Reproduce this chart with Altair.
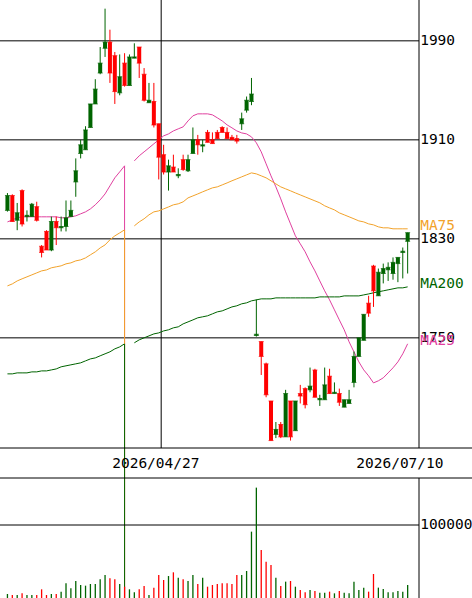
import altair as alt
import pandas as pd

# ---------------- data ----------------
idx = list(range(83))
opens = [1853, 1865, 1845, 1869, 1848, 1848, 1856, 1824, 1836, 1821,
         1844, 1839, 1840, 1848, 1876, 1899, 1902, 1920, 1939, 1964,
         1984, 1989, 1978, 1948, 1972, 1954, 1976, 1985, 1963, 1940,
         1941, 1923, 1898, 1884, 1888, 1881, 1894, 1885, 1899, 1910,
         1905, 1916, 1910, 1916, 1920, 1916, 1912, 1911, 1923, 1934,
         1941, 1752, 1747, 1729, 1699, 1672, 1680, 1670, 1699, 1675,
         1705, 1709, 1708, 1724, 1700, 1700, 1719, 1705, 1705, 1694,
         1697, 1714, 1735, 1748, 1778, 1808, 1784, 1802, 1805, 1802,
         1810, 1819, 1828]
highs = [1867, 1866, 1859, 1870, 1853, 1859, 1860, 1825, 1837, 1848,
         1848, 1848, 1861, 1861, 1895, 1910, 1921, 1939, 1959, 1985,
         2016, 1999, 1981, 1979, 1980, 1979, 1988, 1985, 1968, 1956,
         1956, 1923, 1906, 1894, 1898, 1887, 1898, 1898, 1920, 1914,
         1910, 1918, 1916, 1918, 1921, 1920, 1914, 1914, 1932, 1945,
         1960, 1781, 1747, 1730, 1699, 1682, 1682, 1708, 1699, 1699,
         1712, 1710, 1726, 1725, 1704, 1726, 1725, 1714, 1709, 1700,
         1708, 1739, 1750, 1769, 1784, 1809, 1806, 1810, 1811, 1815,
         1815, 1823, 1835]
lows = [1852, 1844, 1837, 1840, 1844, 1848, 1844, 1815, 1821, 1820,
        1825, 1836, 1836, 1848, 1864, 1895, 1902, 1920, 1939, 1963,
        1977, 1956, 1939, 1946, 1953, 1954, 1976, 1960, 1941, 1940,
        1920, 1878, 1882, 1869, 1884, 1879, 1885, 1884, 1899, 1898,
        1900, 1908, 1907, 1911, 1916, 1911, 1910, 1907, 1918, 1932,
        1938, 1751, 1720, 1702, 1667, 1669, 1669, 1670, 1667, 1675,
        1697, 1693, 1706, 1702, 1695, 1700, 1705, 1705, 1695, 1694,
        1697, 1710, 1735, 1748, 1767, 1775, 1784, 1794, 1796, 1797,
        1795, 1798, 1802]
closes = [1865, 1844, 1851, 1842, 1849, 1858, 1845, 1819, 1821, 1844,
          1839, 1840, 1847, 1853, 1885, 1906, 1918, 1939, 1951, 1972,
          1989, 1964, 1949, 1961, 1954, 1977, 1977, 1972, 1942, 1942,
          1922, 1896, 1884, 1889, 1884, 1882, 1886, 1894, 1910, 1906,
          1906, 1908, 1907, 1911, 1916, 1911, 1910, 1909, 1927, 1942,
          1947, 1753, 1735, 1704, 1667, 1676, 1670, 1705, 1670, 1699,
          1703, 1696, 1711, 1702, 1701, 1712, 1705, 1706, 1698, 1700,
          1700, 1735, 1750, 1769, 1770, 1788, 1803, 1806, 1807, 1811,
          1815, 1820, 1835]
volumes = [55000, 41000, 41000, 64000, 41000, 41000, 41000, 119000, 41000, 55000,
           55000, 87000, 201000, 132000, 233000, 178000, 169000, 192000, 192000, 256000,
           315000, 269000, 256000, 192000, 155000, 119000, 78000, 119000, 164000, 41000,
           142000, 315000, 247000, 301000, 352000, 279000, 256000, 233000, 315000, 192000,
           279000, 155000, 178000, 192000, 201000, 201000, 192000, 315000, 315000, 370000,
           909000, 1512000, 658000, 498000, 452000, 279000, 164000, 224000, 233000, 155000,
           110000, 78000, 110000, 96000, 73000, 73000, 87000, 64000, 96000, 73000,
           64000, 224000, 110000, 142000, 87000, 329000, 142000, 123000, 78000, 78000,
           96000, 87000, 178000]

ma25 = [1843.7, 1845.3, 1847.0, 1847.8, 1847.8, 1847.8, 1847.8, 1847.8, 1847.8, 1847.8,
        1847.8, 1847.0, 1847.0, 1847.8, 1848.6, 1850.2, 1851.8, 1854.2, 1857.5, 1861.5,
        1866.3, 1872.8, 1879.3, 1884.1, 1889.0, None, 1893.0, 1897.1, 1900.3, 1903.5,
        1906.8, 1910.0, 1913.2, 1914.8, 1917.2, 1918.9, 1920.5, 1925.3, 1929.4, 1931.0,
        1931.0, 1931.0, 1930.2, 1927.8, 1925.3, 1922.1, 1919.7, 1917.2, 1915.6, 1914.8,
        1912.4, 1907.6, 1900.3, 1890.6, 1880.9, 1872.0, 1862.3, 1851.8, 1842.1, 1832.4,
        1826.0, 1819.5, 1811.4, 1804.1, 1796.0, 1788.0, 1780.7, 1772.6, 1764.5, 1756.5,
        1746.8, 1738.7, 1730.6, 1724.1, 1719.3, 1713.6, 1715.3, 1717.7, 1721.7, 1725.8,
        1730.6, 1737.1, 1745.2]
ma75 = [1792.0, 1793.6, 1796.0, 1797.7, 1799.3, 1800.9, 1802.5, 1804.1, 1804.9, 1806.6,
        1807.4, 1808.2, 1809.8, 1810.6, 1812.2, 1813.0, 1814.6, 1817.1, 1819.5, 1822.7,
        1825.1, 1829.2, 1832.4, 1834.8, 1837.3, None, 1840.5, 1843.7, 1846.2, 1849.4,
        1851.8, 1852.6, 1854.2, 1855.8, 1857.5, 1858.3, 1859.9, 1863.1, 1864.7, 1866.3,
        1868.0, 1869.6, 1871.2, 1872.0, 1873.6, 1875.2, 1876.9, 1878.5, 1880.1, 1881.7,
        1883.3, 1882.5, 1880.9, 1879.3, 1876.9, 1874.4, 1872.0, 1870.4, 1868.8, 1867.1,
        1865.5, 1863.9, 1862.3, 1860.7, 1859.1, 1856.7, 1855.0, 1853.4, 1851.0, 1849.4,
        1847.8, 1846.2, 1844.5, 1843.7, 1842.1, 1841.3, 1839.7, 1838.9, 1838.9, 1838.1,
        1838.1, 1838.1, 1838.1]
ma200 = [1720.9, 1720.9, 1721.7, 1721.7, 1721.7, 1722.5, 1722.5, 1723.3, 1723.3, 1724.1,
         1724.9, 1726.6, 1727.4, 1728.2, 1729.0, 1729.8, 1731.4, 1733.0, 1733.8, 1735.5,
         1737.1, 1738.7, 1741.1, 1742.7, 1745.2, None, 1746.0, 1748.4, 1750.0, 1751.6,
         1753.2, 1754.0, 1755.6, 1756.5, 1758.1, 1758.9, 1761.3, 1762.9, 1764.5, 1766.2,
         1767.0, 1767.8, 1769.4, 1771.0, 1771.8, 1773.4, 1775.0, 1775.9, 1777.5, 1778.3,
         1779.9, 1780.7, 1781.5, 1781.5, 1781.5, 1782.3, 1782.3, 1782.3, 1782.3, 1782.3,
         1782.3, 1782.3, 1782.3, 1782.3, 1783.1, 1783.1, 1783.1, 1783.1, 1783.1, 1783.9,
         1783.9, 1783.9, 1783.9, 1784.7, 1785.5, 1786.4, 1787.2, 1788.0, 1788.8, 1789.6,
         1790.4, 1790.4, 1791.2]

glitch_index = 24          # day on which the moving averages drop out
glitch_floor = 1535        # value they drop to (off the bottom of the chart)
month_line_index = 31.5    # vertical guide line
date_ticks = [30, 80]
date_labels = ["2026/04/27", "2026/07/10"]
price_ticks = [1750, 1830, 1910, 1990]
volume_tick = 1000000
ma_names = ["MA25", "MA75", "MA200"]

# ---------------- styling ----------------
GREEN = "#006400"
RED = "#ff0000"
PINK = "#e0409f"
ORANGE = "#f2a22a"
MA200C = "#006400"
FONT = "DejaVu Sans Mono"
FS = 14.5

candles = pd.DataFrame({"i": idx, "open": opens, "high": highs, "low": lows,
                        "close": closes, "volume": volumes})
candles["kind"] = ["up" if c >= o else "down" for o, c in zip(opens, closes)]

rows = []
for name, series in zip(ma_names, [ma25, ma75, ma200]):
    for i, v in zip(idx, series):
        if v is not None:
            rows.append({"i": i, "v": v, "kind": name, "seg": 0 if i <= glitch_index else 1})
ma_df = pd.DataFrame(rows)

glitch_df = pd.DataFrame({
    "i": [glitch_index] * 3,
    "v": [ma25[glitch_index], ma75[glitch_index], ma200[glitch_index]],
    "floor": [glitch_floor] * 3,
    "kind": ma_names,
})

label_df = pd.DataFrame({"i": [idx[-1]] * 3,
                         "v": [ma25[-1], ma75[-1], ma200[-1]],
                         "kind": ma_names})

# one shared colour scale for every coloured mark
color = alt.Color("kind:N",
                  scale=alt.Scale(domain=["up", "down"] + ma_names,
                                  range=[GREEN, RED, PINK, ORANGE, MA200C]),
                  legend=None)

X = alt.Scale(domain=[-0.5, 83.3], nice=False, zero=False)
YP = alt.Scale(domain=[1661, 2023], range=[448, 0], nice=False, zero=False)
YV = alt.Scale(domain=[0, 1644000], range=[598, 478], nice=False, zero=False)

x_enc = alt.X("i:Q", scale=X, axis=None)

one = pd.DataFrame({"a": [0]})
ticks_df = pd.DataFrame({"v": price_ticks, "t": [str(p) for p in price_ticks],
                         "i": [idx[-1]] * len(price_ticks)})

# price panel layers
grid_lines = alt.Chart(ticks_df).mark_rule(color="black", strokeWidth=1).encode(
    y=alt.Y("v:Q", scale=YP, axis=None), x=alt.value(0), x2=alt.value(419))

grid_labels = alt.Chart(ticks_df).mark_text(
    align="left", baseline="middle", dx=12.5, font=FONT, fontSize=FS, color="black").encode(
    x=x_enc, y=alt.Y("v:Q", scale=YP, axis=None), text="t:N")

month_line = alt.Chart(pd.DataFrame({"i": [month_line_index]})).mark_rule(
    color="black", strokeWidth=1).encode(x=x_enc, y=alt.value(0), y2=alt.value(448))

ma_lines = alt.Chart(ma_df).mark_line(strokeWidth=1).encode(
    x=x_enc, y=alt.Y("v:Q", scale=YP, axis=None), color=color, detail="seg:N")

glitch = alt.Chart(glitch_df).mark_rule(strokeWidth=1).encode(
    x=x_enc, y=alt.Y("v:Q", scale=YP, axis=None), y2="floor:Q", color=color)

wicks = alt.Chart(candles).mark_rule(strokeWidth=1).encode(
    x=x_enc, y=alt.Y("low:Q", scale=YP, axis=None), y2="high:Q", color=color)

bodies = alt.Chart(candles).mark_bar(size=4).encode(
    x=x_enc, y=alt.Y("open:Q", scale=YP, axis=None), y2="close:Q", color=color)

ticks_o = alt.Chart(candles).mark_tick(orient="horizontal", size=5, thickness=1).encode(
    x=x_enc, y=alt.Y("open:Q", scale=YP, axis=None), color=color)
ticks_c = alt.Chart(candles).mark_tick(orient="horizontal", size=5, thickness=1).encode(
    x=x_enc, y=alt.Y("close:Q", scale=YP, axis=None), color=color)

ma_labels = alt.Chart(label_df).mark_text(align="left", baseline="middle", dx=12.5, dy=-3,
                                          font=FONT, fontSize=FS).encode(
    x=x_enc, y=alt.Y("v:Q", scale=YP, axis=None), text="kind:N", color=color)

price = alt.layer(grid_lines, grid_labels, month_line, ma_lines, glitch, wicks, bodies,
                  ticks_o, ticks_c, ma_labels)

# volume panel layers
vol_grid = alt.Chart(pd.DataFrame({"v": [volume_tick]})).mark_rule(
    color="black", strokeWidth=1).encode(
    y=alt.Y("v:Q", scale=YV, axis=None), x=alt.value(0), x2=alt.value(419))

vol_label = alt.Chart(pd.DataFrame({"v": [volume_tick], "i": [idx[-1]],
                                    "t": [str(volume_tick)]})).mark_text(
    align="left", baseline="middle", dx=12.5, font=FONT, fontSize=FS, color="black").encode(
    x=x_enc, y=alt.Y("v:Q", scale=YV, axis=None), text="t:N")

vol_bars = alt.Chart(candles).mark_rule(strokeWidth=1.3).encode(
    x=x_enc, y=alt.Y("volume:Q", scale=YV, axis=None), y2=alt.datum(0), color=color)

volume = alt.layer(vol_grid, vol_bars, vol_label)

# frame and date labels
frame_h1 = alt.Chart(one).mark_rule(color="black").encode(
    x=alt.value(0), x2=alt.value(472), y=alt.value(448))
frame_h2 = alt.Chart(one).mark_rule(color="black").encode(
    x=alt.value(0), x2=alt.value(472), y=alt.value(478))
frame_v1 = alt.Chart(one).mark_rule(color="black").encode(
    x=alt.value(419), y=alt.value(0), y2=alt.value(448))
frame_v2 = alt.Chart(one).mark_rule(color="black").encode(
    x=alt.value(419), y=alt.value(478), y2=alt.value(598))

dates = alt.Chart(pd.DataFrame({"i": date_ticks, "t": date_labels})).mark_text(
    align="center", baseline="middle", dx=2, font=FONT, fontSize=FS, color="black").encode(
    x=x_enc, y=alt.value(464), text="t:N")

chart = alt.layer(price, volume, frame_h1, frame_h2, frame_v1, frame_v2, dates).resolve_scale(
    y="independent"
).properties(
    width=419, height=598,
    autosize=alt.AutoSizeParams(type="none"),
    padding={"left": 0, "top": 0, "right": 53, "bottom": 0},
    background="white",
).configure_view(stroke=None)

chart.save("out.html", embed_options={"renderer": "svg", "actions": False})
